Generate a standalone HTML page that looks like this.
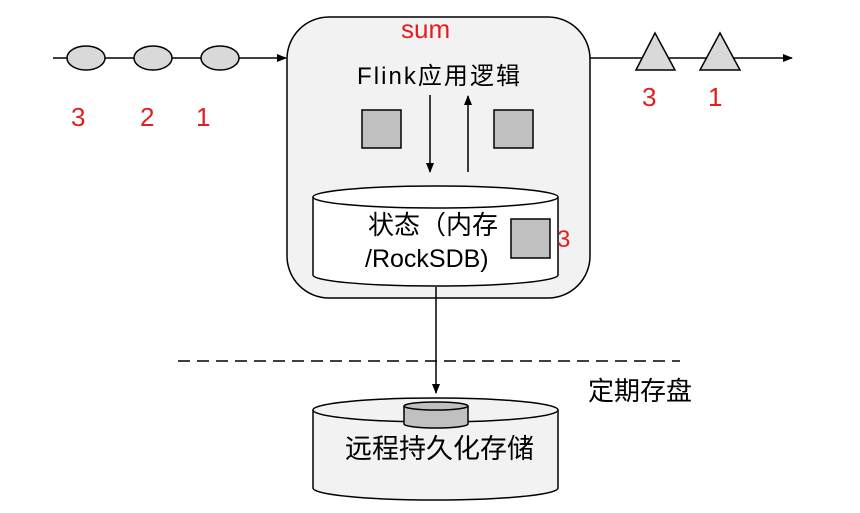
<!DOCTYPE html>
<html><head><meta charset="utf-8"><style>
body{margin:0;background:#fff}
svg{display:block;font-family:"Liberation Sans","Noto Sans CJK SC",sans-serif}
</style></head><body>
<svg width="860" height="513" viewBox="0 0 860 513" xmlns="http://www.w3.org/2000/svg">
<defs><marker id="a" markerWidth="10" markerHeight="10" refX="9" refY="5" orient="auto" markerUnits="userSpaceOnUse"><path d="M0,1 L10,5 L0,9 Z" fill="#000"/></marker></defs>
<g stroke="#000" stroke-width="1.5">
<line x1="53" y1="58" x2="286" y2="58" marker-end="url(#a)"/>
<ellipse cx="86" cy="58" rx="19" ry="12" fill="#d9d9d9"/>
<ellipse cx="153" cy="58" rx="19" ry="12" fill="#d9d9d9"/>
<ellipse cx="220" cy="58" rx="19" ry="12" fill="#d9d9d9"/>
<line x1="590" y1="58" x2="792" y2="58" marker-end="url(#a)"/>
<polygon points="655,33 675,70 636,70" fill="#d9d9d9"/>
<polygon points="720,33 740,70 700,70" fill="#d9d9d9"/>
<rect x="287" y="17" width="303" height="281" rx="42" fill="#f2f2f2"/>
<line x1="430" y1="95" x2="430" y2="172" marker-end="url(#a)"/>
<line x1="468" y1="172" x2="468" y2="96" marker-end="url(#a)"/>
<rect x="362" y="110" width="39" height="38" fill="#c0c0c0"/>
<rect x="494" y="110" width="39" height="38" fill="#c0c0c0"/>
<path d="M313,197 L313,275 A122,11 0 0 0 558,275 L558,197" fill="#fff"/>
<ellipse cx="435.5" cy="197" rx="122.5" ry="11" fill="#fff"/>
<rect x="511" y="219" width="39" height="39" fill="#c0c0c0"/>
<line x1="436" y1="287" x2="436" y2="393" marker-end="url(#a)"/>
<line x1="178" y1="361" x2="680" y2="361" stroke-dasharray="12,7"/>
<path d="M313,410 L313,488 A122,12 0 0 0 558,488 L558,410" fill="#f2f2f2"/>
<ellipse cx="435.5" cy="410" rx="122.5" ry="12" fill="#f2f2f2"/>
<path d="M404,406 L404,424 A32,4 0 0 0 468,424 L468,406" fill="#c0c0c0"/>
<ellipse cx="436" cy="406" rx="32" ry="4" fill="#c0c0c0"/>
</g>
<g fill="#e02020" font-size="26">
<text x="71" y="126">3</text><text x="140" y="126">2</text><text x="196" y="126">1</text>
<text x="642" y="106">3</text><text x="708" y="106">1</text>
<text x="401" y="38">sum</text>
<text x="557" y="247" font-size="24">3</text>
</g>
<g fill="#000" font-size="24">
<text x="357" y="84" textLength="163">Flink应用逻辑</text>
<text x="368" y="234" font-size="26">状态（内存</text>
<text x="365" y="267" font-size="25">/RockSDB)</text>
<text x="345" y="458" font-size="27">远程持久化存储</text>
<text x="588" y="400" font-size="26">定期存盘</text>
</g>
</svg>
</body></html>
